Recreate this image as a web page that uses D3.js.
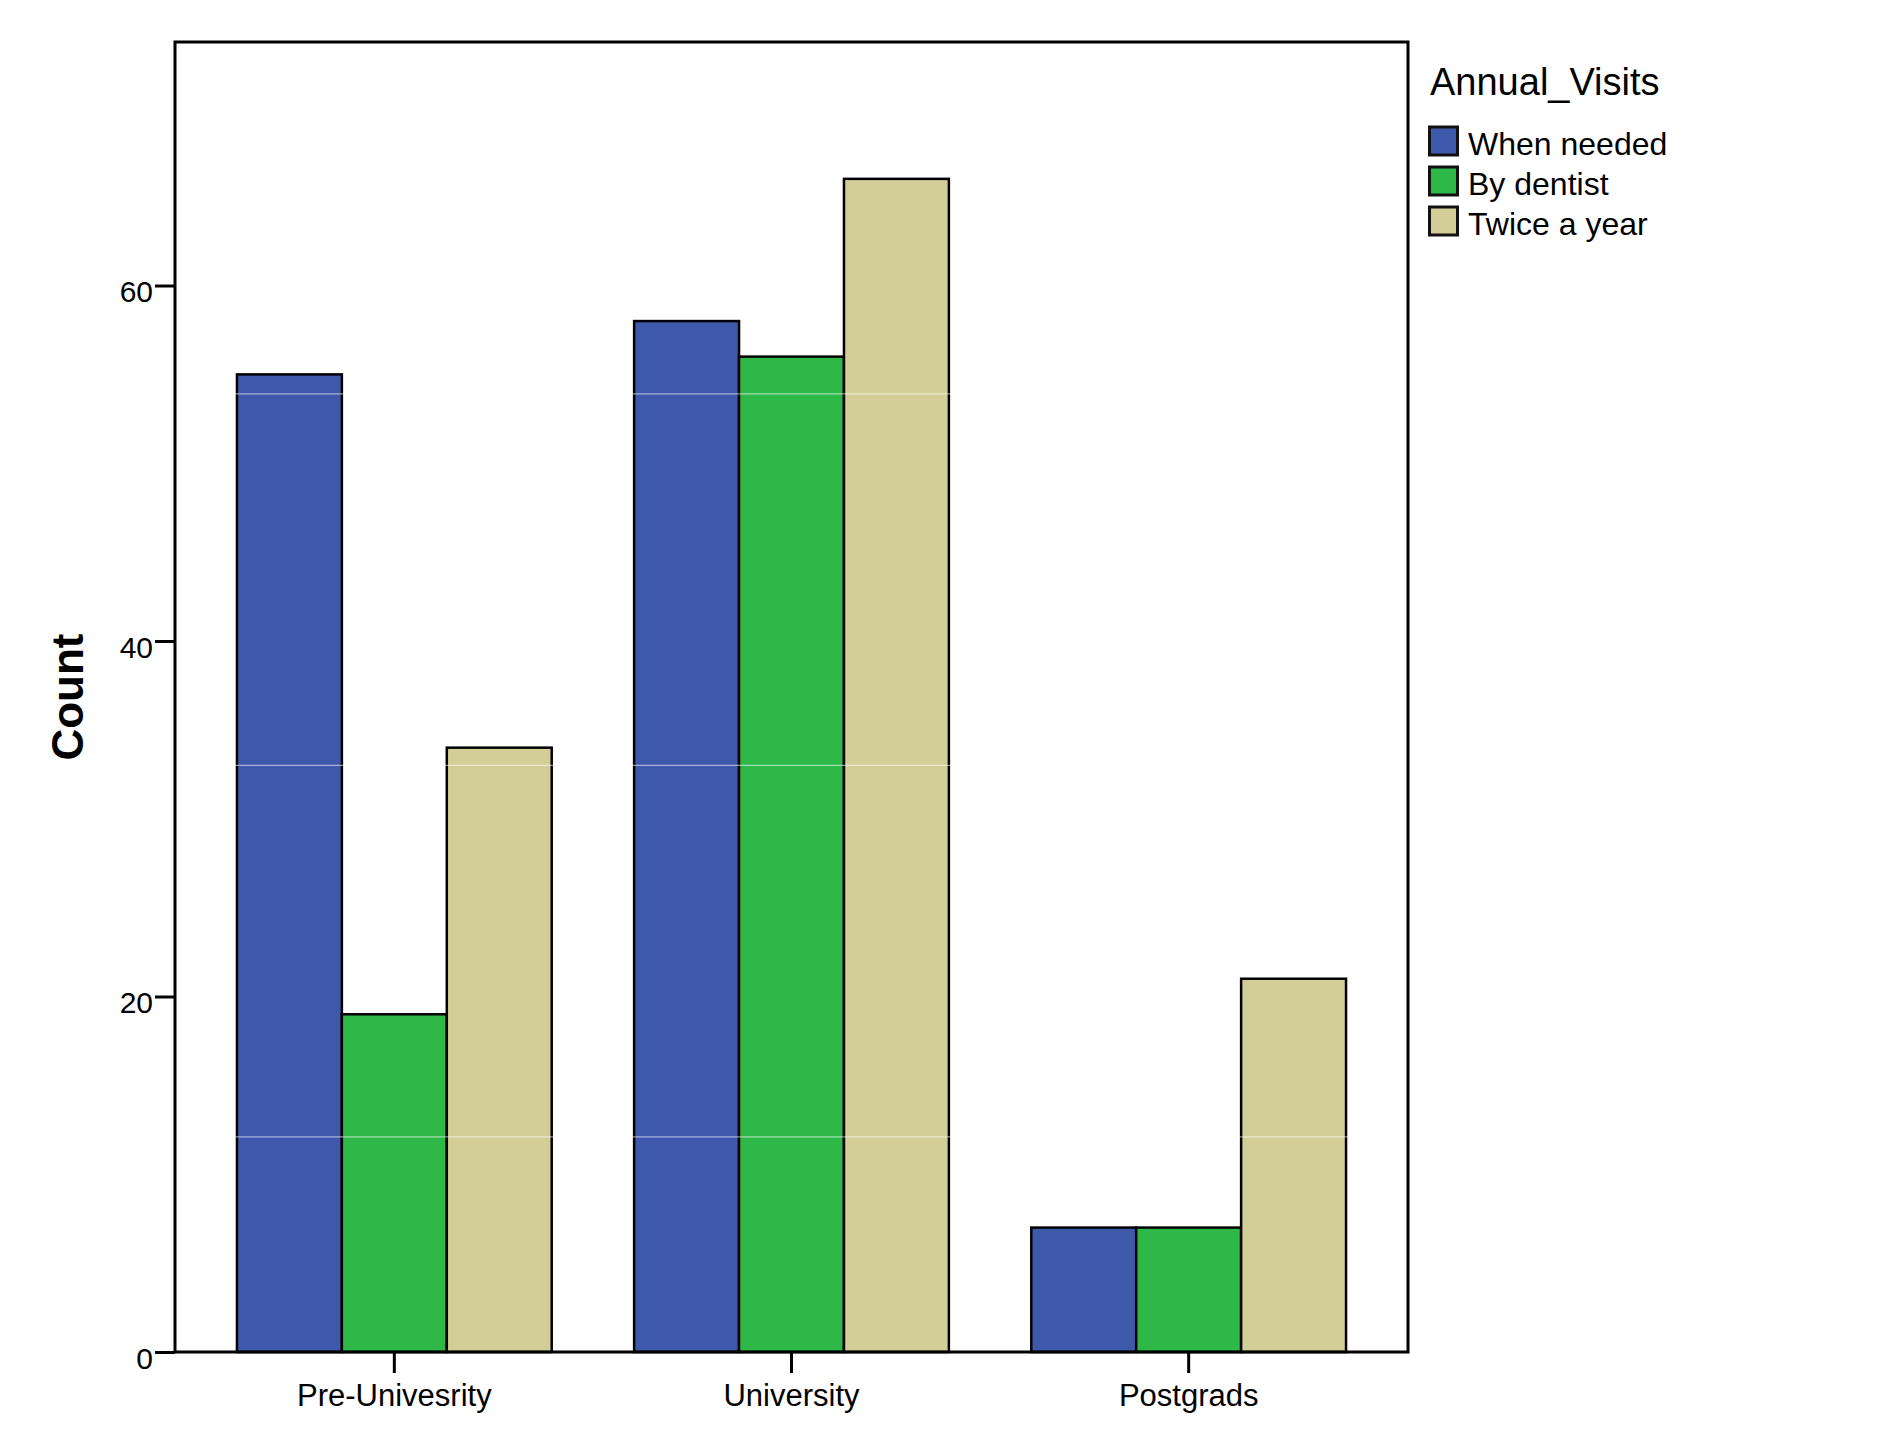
<!DOCTYPE html>
<html>
<head>
<meta charset="utf-8">
<script src="https://cdn.jsdelivr.net/npm/d3@7"></script>
<style>
body{margin:0;background:#fff;}
svg{display:block;font-family:Arial,"Liberation Sans",sans-serif;}
</style>
</head>
<body>
<script>
// chart data
var categories=['Pre-Univesrity','University','Postgrads'];
var seriesNames=['When needed','By dentist','Twice a year'];
var whenNeeded=[55,58,7];
var byDentist=[19,56,7];
var twiceAYear=[34,66,21];
var yTicks=[0,20,40,60];
var seamValues=[12.1,33,53.9];

var colors=['#3e58ac','#2eb848','#d3ce97'];
var width=1880,height=1431;
var plotLeft=175,plotRight=1408,plotTop=42,plotBottom=1352;

var svg=d3.select('body').append('svg')
.attr('width',width)
.attr('height',height);

svg.append('rect').attr('width',width).attr('height',height).attr('fill','#fff');

var x0=d3.scaleBand()
.domain(categories)
.range([plotLeft,plotRight])
.paddingInner(0.2075)
.paddingOuter(0.156);

var x1=d3.scaleBand()
.domain(seriesNames)
.range([0,x0.bandwidth()]);

var y=d3.scaleLinear()
.domain([0,73.7])
.range([plotBottom,plotTop]);

var rows=categories.map(function(c,i){
    return {cat:c,values:[whenNeeded[i],byDentist[i],twiceAYear[i]]};
});

// bars
var groups=svg.append('g').selectAll('g')
.data(rows)
.enter()
.append('g')
.attr('transform',d=>'translate('+x0(d.cat)+',0)');

groups.selectAll('rect')
.data(d=>d.values.map((v,i)=>({name:seriesNames[i],value:v,idx:i})))
.enter()
.append('rect')
.attr('x',d=>x1(d.name))
.attr('y',d=>y(d.value))
.attr('width',x1.bandwidth())
.attr('height',d=>y(0)-y(d.value))
.style('fill',d=>colors[d.idx])
.style('stroke','#000')
.style('stroke-width',2.5);

// faint render seams
svg.append('g').selectAll('line')
.data(seamValues)
.enter()
.append('line')
.attr('x1',plotLeft-3)
.attr('x2',plotRight)
.attr('y1',d=>y(d))
.attr('y2',d=>y(d))
.style('stroke','#fff')
.style('stroke-opacity',0.55)
.style('stroke-width',1.2);

// frame
svg.append('rect')
.attr('x',plotLeft)
.attr('y',plotTop)
.attr('width',plotRight-plotLeft)
.attr('height',plotBottom-plotTop)
.style('fill','none')
.style('stroke','#000')
.style('stroke-width',3);

// y axis
var yAxis=svg.append('g')
.attr('transform','translate('+plotLeft+',0)')
.call(d3.axisLeft(y).tickValues(yTicks).tickSize(20).tickPadding(2));
yAxis.select('.domain').remove();
yAxis.selectAll('line').attr('stroke','#000').attr('stroke-width',3);
yAxis.selectAll('text')
.attr('fill','#000')
.attr('dy',0)
.attr('y',16)
.style('font-size','30px')
.style('font-family','Arial,"Liberation Sans",sans-serif');

// x axis
var xAxis=svg.append('g')
.attr('transform','translate(0,'+plotBottom+')')
.call(d3.axisBottom(x0).tickSize(21).tickPadding(0));
xAxis.select('.domain').remove();
xAxis.selectAll('line').attr('stroke','#000').attr('stroke-width',3);
xAxis.selectAll('text')
.attr('fill','#000')
.attr('dy',0)
.attr('y',54)
.style('font-size','31px')
.style('font-family','Arial,"Liberation Sans",sans-serif');

// y label
svg.append('text')
.attr('transform','translate(83,697) rotate(-90)')
.attr('text-anchor','middle')
.style('font-size','44px')
.style('font-weight','bold')
.text('Count');

// legend
var legend=svg.append('g').attr('transform','translate(1428,0)');
legend.append('text')
.attr('x',2)
.attr('y',95)
.style('font-size','38px')
.text('Annual_Visits');

var item=legend.selectAll('.item')
.data(seriesNames)
.enter()
.append('g')
.attr('class','item')
.attr('transform',(d,i)=>'translate(0,'+(127+i*40)+')');

item.append('rect')
.attr('x',1.5)
.attr('y',0)
.attr('width',28)
.attr('height',28)
.style('fill',(d,i)=>colors[i])
.style('stroke','#111')
.style('stroke-width',3);

item.append('text')
.attr('x',40)
.attr('y',28)
.style('font-size','32px')
.text(d=>d);
</script>
</body>
</html>
